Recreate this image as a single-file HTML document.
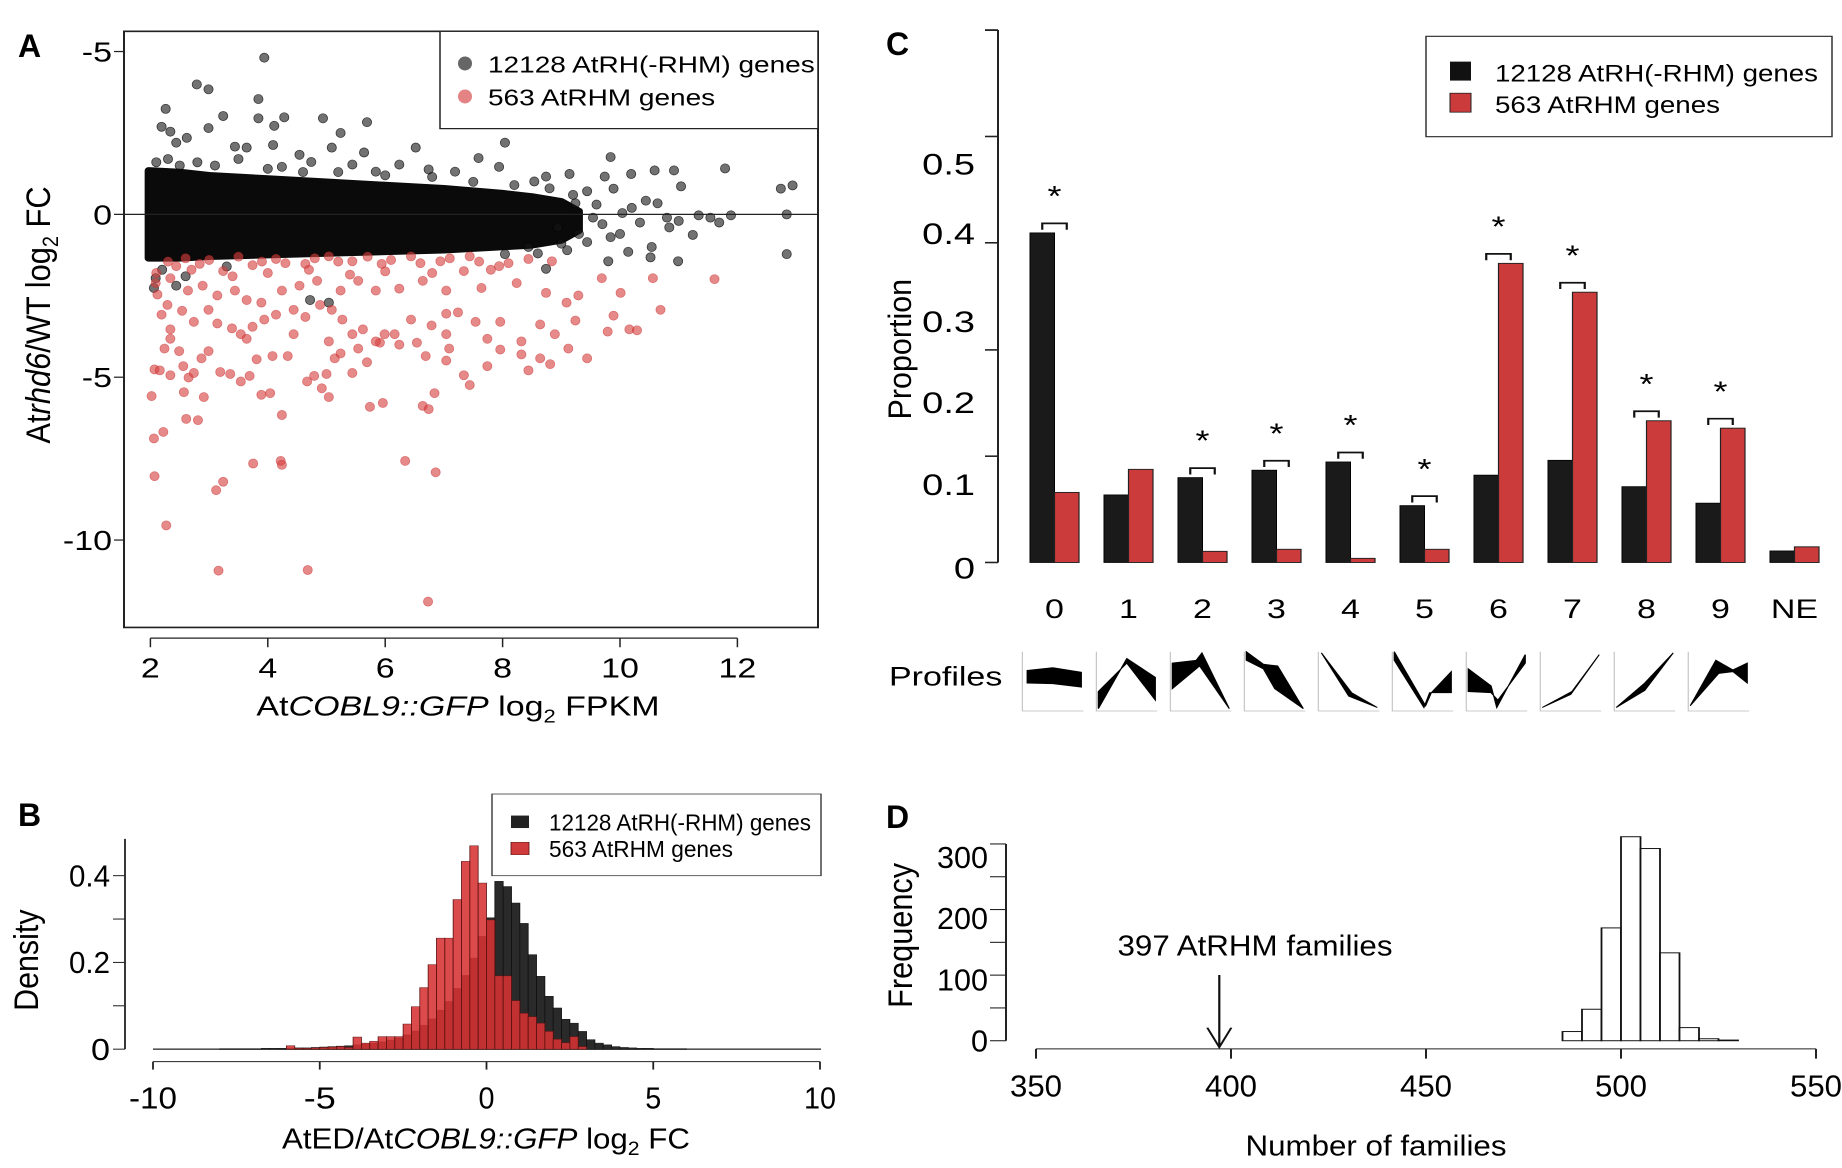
<!DOCTYPE html>
<html><head><meta charset="utf-8">
<style>
html,body{margin:0;padding:0;background:#fff;overflow:hidden;}
svg{display:block;font-family:"Liberation Sans",Arial,sans-serif;}
</style></head>
<body>
<svg id="fig" width="1842" height="1168" viewBox="0 0 1842 1168" xmlns="http://www.w3.org/2000/svg">
<g id="pA" transform="scale(1,0.8245)"></g>
<g id="pB" transform="translate(0,760) scale(1,0.567) translate(0,-760)"></g>
<g id="pC" transform="scale(1,0.790)"></g>
<g id="pD" transform="translate(0,760) scale(1,0.543) translate(0,-760)"></g>
<text x="18" y="57" font-size="32" font-weight="bold">A</text>
<text x="886" y="55" font-size="32" font-weight="bold">C</text>
<text x="18" y="826" font-size="32" font-weight="bold">B</text>
<text x="886" y="828" font-size="32" font-weight="bold">D</text>
</svg>
<script>
// ===== Panel A data =====
const redX=[2.02,2.06,2.07,2.22,2.27,3.16,3.12,3.24,3.75,4.22,4.24,4.68,6.73,6.34,6.86,5.74,5.96,6.64,6.74,6.84,4.24,3.89,4.04,5.04,4.92,2.91,2.61,2.81,2.57,2.65,2.07,2.16,2.34,2.56,2.74,2.87,2.99,3.19,3.36,3.54,3.69,3.81,4.08,4.34,4.67,4.79,5.00,5.14,5.24,5.44,5.69,5.91,6.24,6.54,6.69,7.04,7.09,7.34,7.44,7.74,7.96,8.32,8.44,8.64,8.81,9.12,9.44,8.32,8.89,9.24,9.79,10.16,10.29,9.89,10.69,10.01,10.56,11.61,9.69,9.09,9.29,8.74,8.24,7.96,7.54,7.24,7.04,6.79,6.44,6.16,5.99,5.84,5.62,5.44,5.27,5.09,4.89,4.64,4.44,4.14,3.94,3.74,3.54,3.39,3.14,2.99,2.74,2.54,2.29,2.12,2.09,2.34,2.64,2.89,3.14,3.44,3.64,3.89,4.24,4.54,4.84,5.24,5.54,5.84,6.24,6.64,7.04,7.34,7.64,7.94,8.44,8.84,2.44,2.84,3.24,3.74,4.14,4.64,5.04,5.44,5.94,6.44,6.94,7.44,2.34,2.49,3.64,4.44,5.04,5.54,7.04,7.74,8.64,2.24,2.19,2.34,2.3,2.6,3.0,3.5,3.9,4.3,4.8,5.2,5.7,6.1,6.6,7.1,7.6,8.1,2.1,2.7,3.4,4.0,4.7,5.4,6.0,6.8,7.8];
const redY=[-5.58,-6.88,-8.04,-6.68,-9.55,-10.94,-8.47,-8.21,-7.65,-7.57,-7.69,-10.92,-11.89,-7.57,-7.92,-5.91,-5.79,-5.88,-5.98,-5.49,-6.16,-5.54,-5.49,-5.61,-5.34,-5.61,-6.28,-6.32,-5.46,-5.01,-4.76,-4.79,-4.94,-4.66,-4.87,-4.42,-4.20,-4.84,-4.90,-5.13,-4.96,-4.45,-4.35,-4.35,-5.13,-4.96,-4.90,-4.42,-4.27,-4.87,-4.54,-3.94,-4.00,-3.94,-4.35,-4.49,-4.12,-4.94,-5.24,-4.66,-4.15,-4.30,-4.79,-4.42,-4.60,-4.12,-4.42,-3.90,-3.68,-3.26,-3.60,-3.53,-3.56,-3.11,-2.93,-2.41,-1.96,-1.99,-1.96,-2.71,-2.49,-2.41,-2.11,-3.30,-3.30,-3.01,-3.05,-3.41,-3.23,-3.68,-3.68,-3.90,-3.53,-3.68,-3.23,-2.93,-2.78,-3.15,-2.93,-3.08,-3.23,-3.45,-3.68,-3.50,-3.35,-2.93,-3.30,-2.96,-2.78,-2.46,-2.11,-1.96,-2.34,-2.19,-2.49,-2.34,-2.63,-2.71,-2.34,-2.19,-2.04,-2.34,-2.04,-2.34,-2.28,-2.04,-2.34,-1.74,-2.26,-1.59,-1.37,-1.44,-1.59,-1.52,-1.74,-1.56,-1.37,-1.52,-1.29,-1.44,-1.52,-1.29,-1.44,-1.29,-3.82,-4.20,-3.82,-3.68,-3.90,-4.12,-3.68,-3.82,-3.38,-4.12,-3.08,-3.53,-1.45,-1.35,-1.4,-1.3,-1.45,-1.5,-1.35,-1.45,-1.3,-1.4,-1.5,-1.35,-1.45,-1.5,-1.8,-1.7,-1.9,-1.8,-1.7,-1.85,-1.75,-1.8,-1.7];
const blackX=[3.94,2.79,2.99,3.84,3.84,4.28,4.11,4.94,5.69,5.24,3.24,2.26,2.19,2.34,2.62,2.44,2.99,3.44,3.64,4.09,4.54,5.09,5.64,6.52,8.04,7.59,9.84,11.79,12.74,12.94,10.59,10.92,10.19,9.74,9.14,8.74,8.54,7.94,7.19,6.74,6.24,5.84,5.44,4.74,4.24,9.44,9.89,10.44,10.64,11.04,11.34,11.54,11.69,11.89,12.84,12.84,10.99,10.52,10.54,10.14,9.84,9.44,11.24,10.84,10.34,10.04,9.80,8.74,5.04,4.72,2.44,2.06,2.09,8.44,8.04,9.54,9.24,8.94,9.2,9.6,9.0,9.3,9.7,10.0,10.2,10.8,11.0,2.1,2.3,2.5,2.8,3.1,3.5,4.0,4.6,5.2,6.0,6.8,7.5,8.2,8.8,2.2,2.6,3.3,8.6,9.1];
const blackY=[4.81,3.99,3.84,3.54,2.95,2.98,2.72,2.95,2.83,2.50,3.02,3.24,2.69,2.54,2.35,2.20,2.65,2.08,2.05,2.13,1.83,2.05,1.90,2.05,2.20,1.73,1.76,1.41,0.79,0.89,1.35,1.35,1.24,1.16,1.24,1.16,1.01,1.46,1.31,1.38,1.53,1.31,1.53,1.61,1.46,0.71,0.79,0.42,0.34,0.86,-0.03,-0.10,-0.25,-0.03,0,-1.22,-1.44,-1.32,-1.00,-1.15,-0.70,-0.85,-0.63,-0.40,-0.25,0.04,-1.44,-1.67,-2.71,-2.63,-2.19,-2.26,-1.96,-1.00,-1.22,-0.10,0.34,-0.40,0.6,0.3,-0.9,-0.6,-0.3,-0.6,0.2,-0.1,-0.2,1.6,1.7,1.5,1.6,1.5,1.7,1.4,1.3,1.3,1.2,1.15,1.0,0.9,0.8,-1.7,-1.9,-1.6,-1.2,-1.1];
const bandX=[1.97,2.5,3,4,5,6,7,8,8.5,9,9.3];
const bandUpper=[1.35,1.3,1.2,1.1,1.0,0.9,0.8,0.65,0.55,0.4,0.1];
const bandLower=[-1.35,-1.35,-1.3,-1.25,-1.2,-1.15,-1.1,-1.0,-0.95,-0.8,-0.5];
const aXTicks=[2,4,6,8,10,12];
const aYTicks=[5,0,-5,-10];
const aYTickLabels=["-5","0","-5","-10"];

// ===== Panel B data =====
const bBinWidth=0.25;
const bBlackStart=-8;
const bBlack=[0.001,0.001,0.001,0.001,0.001,0.002,0.002,0.002,0.002,0.003,0.003,0.004,0.005,0.006,0.007,0.008,0.010,0.012,0.014,0.017,0.021,0.026,0.033,0.042,0.055,0.07,0.09,0.11,0.14,0.17,0.21,0.26,0.303,0.387,0.375,0.337,0.29,0.218,0.168,0.122,0.095,0.069,0.06,0.041,0.022,0.014,0.01,0.006,0.004,0.003,0.002,0.002,0.001,0.001,0.001,0.001];
const bRedStart=-6;
const bRed=[0.008,0.002,0.002,0.003,0.004,0.005,0.006,0.004,0.028,0.014,0.018,0.029,0.029,0.029,0.058,0.098,0.142,0.195,0.256,0.256,0.345,0.433,0.469,0.383,0.298,0.169,0.169,0.112,0.083,0.075,0.06,0.041,0.023,0.015,0.029,0.006];
const bXTicks=[-10,-5,0,5,10];
const bYTicks=[0,0.1,0.2,0.3,0.4];
const bYTickLabels=["0","","0.2","","0.4"];

// ===== Panel C data =====
const cCategories=["0","1","2","3","4","5","6","7","8","9","NE"];
const cBlack=[0.40,0.082,0.103,0.112,0.122,0.069,0.106,0.124,0.092,0.072,0.014];
const cRed=[0.085,0.113,0.0135,0.016,0.005,0.016,0.363,0.328,0.172,0.163,0.019];
const cSignificant=[1,0,1,1,1,1,1,1,1,1,0];
const cTickVals=[0,0.129,0.258,0.388,0.517,0.646];
const cLabelPos=[-0.006,0.095,0.195,0.293,0.4,0.484];
const cLabels=["0","0.1","0.2","0.3","0.4","0.5"];

// ===== Panel D data =====
const dBinStarts=[485,490,495,500,505,510,515,520,525];
const dCounts=[14,48,172,311,293,134,20,3,1];
const dXTicks=[350,400,450,500,550];
const dYTicks=[0,50,100,150,200,250,300];
const dYLabels=[0,100,200,300];
const dObserved=397;

const NS="http://www.w3.org/2000/svg";
function mk(parent,tag,attrs){const e=document.createElementNS(NS,tag);for(const k in attrs)e.setAttribute(k,attrs[k]);parent.appendChild(e);return e;}
function txt(parent,x,y,s,size,anchor,extra){const t=mk(parent,'text',Object.assign({x:x,y:y,'font-size':size,'text-anchor':anchor||'start'},extra||{}));t.textContent=s;return t;}
function squeeze(t,len){t.setAttribute('textLength',len);t.setAttribute('lengthAdjust','spacingAndGlyphs');}

// ===== Panel A =====
(function(){
const g=document.getElementById('pA');
const SY=0.8245;
const xA=v=>150.4+(v-2)*58.7, yA=v=>260-v*39.5;
const box=mk(g,'rect',{x:124,y:38,width:694,height:723,fill:'none',stroke:'#222','stroke-width':2});

let pts=[];for(let i=0;i<bandX.length;i++)pts.push(xA(bandX[i])+','+yA(bandUpper[i]));
for(let i=bandX.length-1;i>=0;i--)pts.push(xA(bandX[i])+','+yA(bandLower[i]));
const band=mk(g,'polygon',{points:pts.join(' '),fill:'#0a0a0a',stroke:'#0a0a0a','stroke-width':8,'stroke-linejoin':'round'});

for(let i=0;i<blackX.length;i++){const c=mk(g,'ellipse',{cx:xA(blackX[i]),cy:yA(blackY[i]),rx:4.6,ry:4.6/SY,fill:'rgba(20,20,20,0.6)',stroke:'rgba(0,0,0,0.7)','stroke-width':0.8});
}
for(let i=0;i<redX.length;i++){const c=mk(g,'ellipse',{cx:xA(redX[i]),cy:yA(redY[i]),rx:4.6,ry:4.6/SY,fill:'rgba(214,64,64,0.62)',stroke:'rgba(200,40,40,0.5)','stroke-width':0.8});
}
const zl=mk(g,'line',{x1:124,x2:818,y1:yA(0),y2:yA(0),stroke:'#222','stroke-width':1.5});

aYTicks.forEach((v,i)=>{mk(g,'line',{x1:114,x2:124,y1:yA(v),y2:yA(v),stroke:'#222','stroke-width':1.5});
const t=txt(g,112,yA(v)+12,aYTickLabels[i],34,'end');});
mk(g,'line',{x1:xA(2),x2:xA(12),y1:774,y2:774,stroke:'#222','stroke-width':1.5});
aXTicks.forEach(v=>{mk(g,'line',{x1:xA(v),x2:xA(v),y1:774,y2:785,stroke:'#222','stroke-width':1.5});
const t=txt(g,xA(v),822,String(v),34,'middle');});
const xt=mk(g,'text',{x:458,y:868,'font-size':34,'text-anchor':'middle'});
xt.innerHTML='At<tspan font-style="italic">COBL9::GFP</tspan> log<tspan font-size="22" dy="8">2</tspan><tspan dy="-8"> FPKM</tspan>';

const yt=mk(g,'text',{x:0,y:0,'font-size':34,'text-anchor':'middle',transform:'translate(50,382) rotate(-90)',textLength:312,lengthAdjust:'spacingAndGlyphs'});
yt.innerHTML='At<tspan font-style="italic">rhd6</tspan>/WT log<tspan font-size="22" dy="8">2</tspan><tspan dy="-8"> FC</tspan>';

const lg=mk(g,'g',{});
mk(lg,'rect',{x:440,y:38,width:378,height:118,fill:'#fff',stroke:'#222','stroke-width':1.5});
mk(lg,'ellipse',{cx:465,cy:77,rx:7,ry:7/SY,fill:'rgba(20,20,20,0.65)'});
mk(lg,'ellipse',{cx:465,cy:117,rx:7,ry:7/SY,fill:'rgba(214,64,64,0.65)'});
const l1=txt(lg,488,88,'12128 AtRH(-RHM) genes',28);
const l2=txt(lg,488,128,'563 AtRHM genes',28);
})();

// ===== Panel B =====
(function(){
const g=document.getElementById('pB');
const xB=v=>486.5+v*33.35, yB=v=>1270-v*765;
mk(g,'line',{x1:153,x2:821,y1:1270,y2:1270,stroke:'#555','stroke-width':3});
bBlack.forEach((v,i)=>{const x0=bBlackStart+i*bBinWidth;
const r=mk(g,'rect',{x:xB(x0),y:yB(v),width:xB(x0+bBinWidth)-xB(x0),height:yB(0)-yB(v),fill:'#2a2a2a',stroke:'#111','stroke-width':0.8});
});
bRed.forEach((v,i)=>{const x0=bRedStart+i*bBinWidth;
const r=mk(g,'rect',{x:xB(x0),y:yB(v),width:xB(x0+bBinWidth)-xB(x0),height:yB(0)-yB(v),fill:'rgba(214,50,50,0.88)',stroke:'#5a1010','stroke-width':0.8});
});
mk(g,'line',{x1:125,x2:125,y1:899,y2:1270,stroke:'#222','stroke-width':1.8});
bYTicks.forEach((v,i)=>{mk(g,'line',{x1:113,x2:125,y1:yB(v),y2:yB(v),stroke:'#222','stroke-width':1.8});
if(bYTickLabels[i]){const t=txt(g,110,yB(v)+19,bYTickLabels[i],54,'end');squeeze(t,bYTickLabels[i].length>1?41:19);}});
mk(g,'line',{x1:xB(-10),x2:xB(10),y1:1292,y2:1292,stroke:'#222','stroke-width':1.8});
bXTicks.forEach(v=>{mk(g,'line',{x1:xB(v),x2:xB(v),y1:1292,y2:1306,stroke:'#222','stroke-width':1.8});
const s=String(v);const t=txt(g,xB(v),1375,s,54,'middle');squeeze(t,s.length*16);});
const xt=mk(g,'text',{x:486,y:1445,'font-size':50,'text-anchor':'middle',textLength:408,lengthAdjust:'spacingAndGlyphs'});
xt.innerHTML='AtED/At<tspan font-style="italic">COBL9::GFP</tspan> log<tspan font-size="34" dy="12">2</tspan><tspan dy="-12"> FC</tspan>';

const yt=txt(g,0,0,'Density',34,'middle',{transform:'translate(38,1113) rotate(-90)'});squeeze(yt,179);

const lg=mk(g,'g',{});
mk(lg,'rect',{x:492,y:820,width:329,height:144,fill:'#fff',stroke:'#444','stroke-width':1.5});
mk(lg,'rect',{x:511,y:858,width:18,height:22,fill:'#222'});
mk(lg,'rect',{x:511,y:905,width:18,height:22,fill:'#cf3a3a',stroke:'#5a1010','stroke-width':0.8});
const l1=txt(lg,549,884,'12128 AtRH(-RHM) genes',40);squeeze(l1,262);
const l2=txt(lg,549,931,'563 AtRHM genes',40);squeeze(l2,184);
})();

// ===== Panel C =====
(function(){
const g=document.getElementById('pC');
const yC=v=>712-v*1043;
const gx=i=>1030+i*74, bw=24.5;
mk(g,'line',{x1:998,x2:998,y1:38,y2:712,stroke:'#222','stroke-width':2});
cTickVals.forEach(v=>mk(g,'line',{x1:985,x2:998,y1:yC(v),y2:yC(v),stroke:'#222','stroke-width':2}));
mk(g,'line',{x1:985,x2:998,y1:38,y2:38,stroke:'#222','stroke-width':2});
cLabels.forEach((s,i)=>{const t=txt(g,975,yC(cLabelPos[i])+14,s,38,'end');});
const yt=txt(g,0,0,'Proportion',32,'middle',{transform:'translate(911,442) rotate(-90)'});squeeze(yt,178);

cCategories.forEach((c,i)=>{const x=gx(i);
const b=mk(g,'rect',{x:x,y:yC(cBlack[i]),width:bw,height:yC(0)-yC(cBlack[i]),fill:'#1a1a1a',stroke:'#000','stroke-width':1});

const r=mk(g,'rect',{x:x+bw,y:yC(cRed[i]),width:bw,height:yC(0)-yC(cRed[i]),fill:'#cc3b3b',stroke:'#222','stroke-width':1.2});

const t=txt(g,x+bw,782,c,34,'middle');
if(cSignificant[i]){const top=yC(Math.max(cBlack[i],cRed[i]))-12;
const br=mk(g,'path',{d:`M${x+bw/2},${top+8} V${top} H${x+bw*1.5} V${top+8}`,fill:'none',stroke:'#111','stroke-width':2.2});

const s=txt(g,x+bw,top-22,'*',36,'middle');}
});
const pl=txt(g,889,868,'Profiles',34);
const shapes=[
[[0.05,0.33],[0.5,0.28],[1,0.36],[1,0.62],[0.5,0.56],[0.05,0.55]],
[[0,1],[0.5,0.12],[1,0.45],[1,0.85],[0.5,0.2],[0,0.7]],
[[0,0.2],[0.42,0.15],[0.52,0.02],[1,1],[0.48,0.25],[0,0.65]],
[[0,0],[0.3,0.22],[0.55,0.25],[1,1],[0.5,0.65],[0.3,0.3],[0,0.15]],
[[0.02,0.02],[0.55,0.72],[1,0.98],[0.5,0.78]],
[[0,0],[0.55,0.95],[0.65,0.72],[1,0.35],[1,0.72],[0.62,0.72],[0.52,0.98],[0,0.15]],
[[0,0.3],[0.4,0.6],[0.5,0.98],[1,0.05],[1,0.2],[0.52,0.85],[0.4,0.72],[0,0.7]],
[[0,0.98],[0.5,0.75],[1,0.05],[0.52,0.7]],
[[0,0.98],[0.5,0.55],[1,0.02],[0.5,0.68]],
[[0,0.95],[0.45,0.15],[0.75,0.32],[1,0.2],[1,0.55],[0.75,0.35],[0.5,0.38]]];
shapes.forEach((sh,i)=>{const x0=880+(232+i*120.6)/1.63, y0=825, w=61, h=72;
const pg=mk(g,'g',{});
mk(pg,'path',{d:`M${x0},${y0} V${y0+h+3} H${x0+w}`,fill:'none',stroke:'#bbb','stroke-width':1});
mk(pg,'polygon',{points:sh.map(p=>(x0+2+p[0]*(w-4))+','+(y0+p[1]*h)).join(' '),fill:'#000',stroke:'#000','stroke-width':1.2});});
const lg=mk(g,'g',{});
mk(lg,'rect',{x:1426,y:46,width:406,height:127,fill:'#fff',stroke:'#333','stroke-width':1.5});
mk(lg,'rect',{x:1450,y:78,width:21,height:24,fill:'#111'});
mk(lg,'rect',{x:1450,y:118,width:21,height:24,fill:'#cc3b3b',stroke:'#222','stroke-width':1});
const l1=txt(lg,1495,103,'12128 AtRH(-RHM) genes',30);squeeze(l1,323);
const l2=txt(lg,1495,143,'563 AtRHM genes',30);squeeze(l2,225);
})();

// ===== Panel D =====
(function(){
const g=document.getElementById('pD');
const xD=v=>1036+(v-350)*3.9, yD=v=>1277-v*1.208;
dBinStarts.forEach((b,i)=>{const r=mk(g,'rect',{x:xD(b),y:yD(dCounts[i]),width:xD(b+5)-xD(b),height:yD(0)-yD(dCounts[i]),fill:'#fff',stroke:'#111','stroke-width':1.8});
});
mk(g,'line',{x1:1006,x2:1006,y1:yD(300),y2:yD(0),stroke:'#222','stroke-width':2});
dYTicks.forEach(v=>mk(g,'line',{x1:990,x2:1006,y1:yD(v),y2:yD(v),stroke:'#222','stroke-width':2}));
dYLabels.forEach(v=>{const s=String(v);const t=txt(g,988,yD(v)+v*0.08+20,s,56,'end');squeeze(t,s.length*17);});
mk(g,'line',{x1:xD(350),x2:xD(550),y1:1292,y2:1292,stroke:'#222','stroke-width':2});
dXTicks.forEach(v=>{mk(g,'line',{x1:xD(v),x2:xD(v),y1:1292,y2:1310,stroke:'#222','stroke-width':2});
const t=txt(g,xD(v),1380,String(v),56,'middle');squeeze(t,52);});
const xt=txt(g,1376,1488,'Number of families',52,'middle');squeeze(xt,261);
const yt=txt(g,0,0,'Frequency',34,'middle',{transform:'translate(912,1083) rotate(-90)'});squeeze(yt,267);

const ax=xD(dObserved);
const ar=mk(g,'path',{d:`M${ax},1156 V1289 M${ax-12},1253 L${ax},1289 L${ax+12},1253`,fill:'none',stroke:'#111','stroke-width':2.2});

const an=txt(g,1255,1120,'397 AtRHM families',52,'middle');squeeze(an,275);
})();
</script>
</body></html>
